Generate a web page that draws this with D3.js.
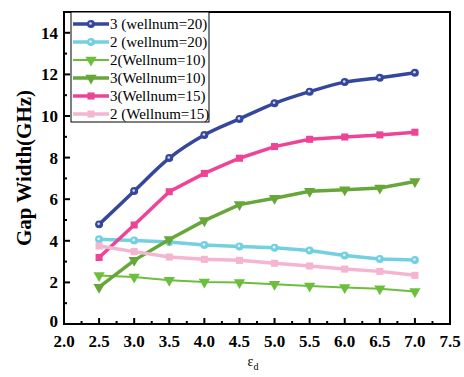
<!DOCTYPE html>
<html>
<head>
<meta charset="utf-8">
<script src="https://cdn.jsdelivr.net/npm/d3@7"></script>
<style>
body { margin: 0; background: #fff; }
text { font-family: "Liberation Serif", "Times New Roman", serif; }
</style>
</head>
<body>
<div id="chart"></div>
<script>
var xs = [2.5, 3.0, 3.5, 4.0, 4.5, 5.0, 5.5, 6.0, 6.5, 7.0];

var w20_3 = [4.79, 6.39, 7.98, 9.09, 9.86, 10.61, 11.17, 11.63, 11.84, 12.08];
var w20_2 = [4.07, 4.02, 3.94, 3.80, 3.73, 3.67, 3.53, 3.29, 3.13, 3.08];
var w10_2 = [2.33, 2.26, 2.10, 2.02, 1.99, 1.91, 1.83, 1.75, 1.69, 1.56];
var w10_3 = [1.77, 3.06, 4.06, 4.97, 5.74, 6.05, 6.38, 6.46, 6.54, 6.85];
var w15_3 = [3.20, 4.76, 6.36, 7.24, 7.97, 8.53, 8.88, 8.99, 9.09, 9.22];
var w15_2 = [3.75, 3.48, 3.22, 3.11, 3.06, 2.92, 2.79, 2.64, 2.53, 2.34];

var names = ["3 (wellnum=20)", "2 (wellnum=20)", "2(Wellnum=10)", "3(Wellnum=10)", "3(Wellnum=15)", "2 (Wellnum=15)"];
var xTicks = [2.0, 2.5, 3.0, 3.5, 4.0, 4.5, 5.0, 5.5, 6.0, 6.5, 7.0, 7.5];
var yTicks = [0, 2, 4, 6, 8, 10, 12, 14];

var series = [
  {name: names[0], values: w20_3, color: "#34479c", marker: "circle", width: 3.5, curve: d3.curveCatmullRom},
  {name: names[1], values: w20_2, color: "#72d0e1", marker: "circle", width: 3.5, curve: d3.curveLinear},
  {name: names[2], values: w10_2, color: "#6cbf3c", marker: "triangle", width: 2, curve: d3.curveLinear},
  {name: names[3], values: w10_3, color: "#67a73a", marker: "triangle", width: 3.5, curve: d3.curveLinear},
  {name: names[4], values: w15_3, color: "#ee4497", marker: "square", width: 3.5, curve: d3.curveLinear},
  {name: names[5], values: w15_2, color: "#f5b4cf", marker: "square", width: 3.5, curve: d3.curveLinear}
];

var margin = {top: 12, right: 14, bottom: 53, left: 64},
    width = 464 - margin.left - margin.right,
    height = 377 - margin.top - margin.bottom;

var svg = d3.select("#chart")
    .append("svg")
    .attr("width", 464)
    .attr("height", 377)
    .append("g")
    .attr("transform", "translate(" + margin.left + "," + margin.top + ")");

var x = d3.scaleLinear().domain([2.0, 7.5]).range([0, width]);
var y = d3.scaleLinear().domain([0, 15]).range([height, 0]);

// minor ticks
var xMinor = d3.range(2.25, 7.5, 0.5);
var yMinor = d3.range(1, 15, 2);

svg.selectAll(".xminor").data(xMinor).enter().append("line")
    .attr("x1", function(d) { return x(d); }).attr("x2", function(d) { return x(d); })
    .attr("y1", height).attr("y2", height - 3)
    .attr("stroke", "#000").attr("stroke-width", 2);
svg.selectAll(".xmajor").data(xTicks).enter().append("line")
    .attr("x1", function(d) { return x(d); }).attr("x2", function(d) { return x(d); })
    .attr("y1", height).attr("y2", height - 6)
    .attr("stroke", "#000").attr("stroke-width", 2);
svg.selectAll(".yminor").data(yMinor).enter().append("line")
    .attr("x1", 0).attr("x2", 3)
    .attr("y1", function(d) { return y(d); }).attr("y2", function(d) { return y(d); })
    .attr("stroke", "#000").attr("stroke-width", 2);
svg.selectAll(".ymajor").data(yTicks).enter().append("line")
    .attr("x1", 0).attr("x2", 6)
    .attr("y1", function(d) { return y(d); }).attr("y2", function(d) { return y(d); })
    .attr("stroke", "#000").attr("stroke-width", 2);

svg.selectAll(".xlab").data(xTicks).enter().append("text")
    .attr("x", function(d) { return x(d); })
    .attr("y", height + 23)
    .attr("text-anchor", "middle")
    .style("font-size", "17px").style("font-weight", "bold")
    .text(function(d) { return d.toFixed(1); });

svg.selectAll(".ylab").data(yTicks).enter().append("text")
    .attr("x", -6)
    .attr("y", function(d) { return d === 0 ? y(d) + 2.5 : y(d) + 6; })
    .attr("text-anchor", "end")
    .style("font-size", "17px").style("font-weight", "bold")
    .text(function(d) { return d; });

// frame
svg.append("rect")
    .attr("x", 0).attr("y", 0)
    .attr("width", width).attr("height", height)
    .attr("fill", "none").attr("stroke", "#000").attr("stroke-width", 2);

svg.append("text")
    .attr("transform", "rotate(-90)")
    .attr("x", -height / 2)
    .attr("y", -33)
    .attr("text-anchor", "middle")
    .style("font-size", "21px").style("font-weight", "bold")
    .text("Gap Width(GHz)");

var xl = svg.append("text")
    .attr("x", width / 2 - 4)
    .attr("y", height + 42)
    .attr("text-anchor", "middle")
    .style("font-size", "14px");
xl.append("tspan").text("ε");
xl.append("tspan").attr("dy", 4).style("font-size", "10px").text("d");

var sym = {
  circle: d3.symbol().type(d3.symbolCircle).size(50),
  triangle: d3.symbol().type(d3.symbolTriangle).size(55),
  square: d3.symbol().type(d3.symbolSquare).size(50)
};

function drawMarker(g, s, px, py) {
  var m = g.append("path")
      .attr("d", sym[s.marker]())
      .attr("fill", s.color);
  if (s.marker === "triangle") {
    m.attr("transform", "translate(" + px + "," + py + ") rotate(180)");
  } else {
    m.attr("transform", "translate(" + px + "," + py + ")");
  }
  if (s.marker === "circle") {
    g.append("circle").attr("cx", px - 0.5).attr("cy", py - 0.5).attr("r", 1.3)
        .attr("fill", "#fff").attr("opacity", 0.8);
  }
}

series.forEach(function(s) {
  var g = svg.append("g");
  var line = d3.line()
      .x(function(d, i) { return x(xs[i]); })
      .y(function(d) { return y(d); })
      .curve(s.curve);
  g.append("path")
      .datum(s.values)
      .attr("d", line)
      .attr("fill", "none")
      .attr("stroke", s.color)
      .attr("stroke-width", s.width);
  s.values.forEach(function(v, i) {
    drawMarker(g, s, x(xs[i]), y(v));
  });
});

// legend
var lg = svg.append("g").attr("transform", "translate(7,0)");
lg.append("rect")
    .attr("x", 0).attr("y", 0)
    .attr("width", 138).attr("height", 110)
    .attr("fill", "#fff").attr("stroke", "#000").attr("stroke-width", 1);
series.forEach(function(s, i) {
  var cy = 12 + i * 18;
  lg.append("line")
      .attr("x1", 2).attr("x2", 38)
      .attr("y1", cy).attr("y2", cy)
      .attr("stroke", s.color).attr("stroke-width", s.width);
  drawMarker(lg, s, 20, cy);
  lg.append("text")
      .attr("x", 39).attr("y", cy)
      .attr("dy", "0.35em")
      .style("font-size", "15px")
      .text(s.name);
});
</script>
</body>
</html>
